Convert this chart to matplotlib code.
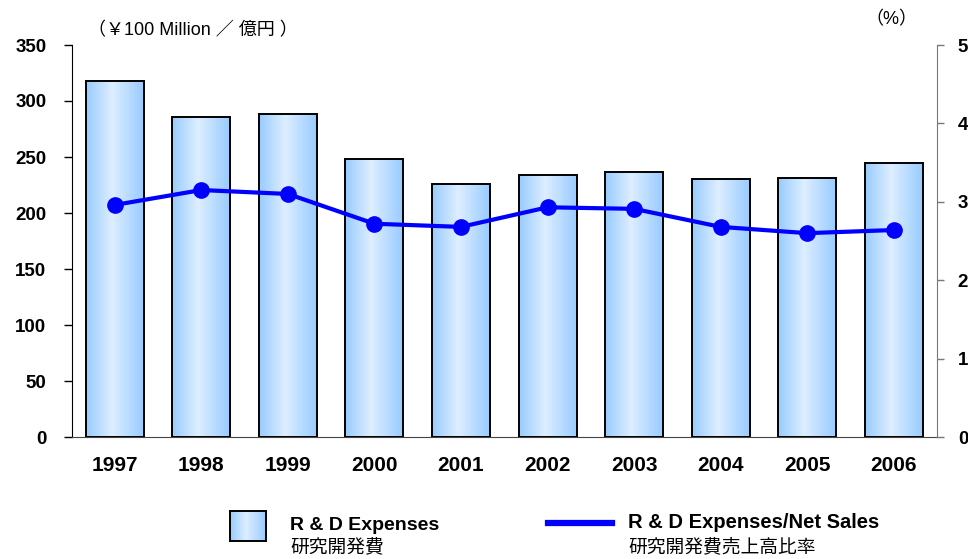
import numpy as np
import matplotlib.pyplot as plt
from matplotlib.colors import LinearSegmentedColormap
from matplotlib.lines import Line2D

years = ["1997", "1998", "1999", "2000", "2001", "2002", "2003", "2004", "2005", "2006"]
rd_expenses = [318, 286, 288, 248, 226, 234, 237, 230, 231, 245]
rd_ratio = [2.96, 3.15, 3.10, 2.72, 2.68, 2.93, 2.91, 2.68, 2.60, 2.64]

FONTS = ["Liberation Sans", "Noto Sans CJK JP", "DejaVu Sans"]
plt.rcParams["font.family"] = FONTS

BAR_CMAP = LinearSegmentedColormap.from_list(
    "barfill", [(0.0, "#99CCFF"), (0.45, "#DDEEFF"), (1.0, "#99CCFF")])
LINE_COLOR = "#0000FF"
grad = np.linspace(0, 1, 64).reshape(1, -1)

fig = plt.figure(figsize=(9.68, 5.59), dpi=100)
ax = fig.add_axes([71.5 / 968, 1 - 437 / 559, (937 - 71.5) / 968, (437 - 45) / 559])
ax2 = ax.twinx()

x = np.arange(len(years))
width = 0.67
bars = ax.bar(x, rd_expenses, width=width, facecolor="none",
              edgecolor="black", linewidth=1.4, zorder=3)
for b in bars:
    im = ax.imshow(grad, cmap=BAR_CMAP, aspect="auto", zorder=2,
                   extent=[b.get_x(), b.get_x() + b.get_width(), 0, b.get_height()])
    im.set_clip_path(b)

ax.set_xlim(-0.5, len(years) - 0.5)
ax.set_ylim(0, 350)
ax.set_yticks(np.arange(0, 351, 50))
ax.set_xticks(x)
ax.set_xticklabels(years, fontsize=15, fontweight="bold")
ax.tick_params(axis="x", length=0, pad=14)
ax.tick_params(axis="y", length=6, width=1, labelsize=13.5, pad=12, color="black")
for lbl in ax.get_yticklabels():
    lbl.set_fontweight("bold")
ax.spines["top"].set_visible(False)
ax.spines["right"].set_visible(False)
ax.spines["left"].set_color("black")
ax.spines["bottom"].set_color("#444444")

ax2.plot(x, rd_ratio, color=LINE_COLOR, linewidth=3, marker="o",
         markersize=11, zorder=5)
ax2.set_ylim(0, 5)
ax2.set_yticks(np.arange(0, 6, 1))
ax2.tick_params(axis="y", length=5, width=1, labelsize=13.5, pad=10, color="#777777")
for lbl in ax2.get_yticklabels():
    lbl.set_fontweight("bold")
ax2.spines["top"].set_visible(False)
ax2.spines["left"].set_visible(False)
ax2.spines["bottom"].set_visible(False)
ax2.spines["right"].set_color("#777777")

fig.text(88 / 968, 1 - 31 / 559, "（￥100 Million ／ 億円 ）", fontsize=13,
         va="center", ha="left")
fig.text(891 / 968, 1 - 20 / 559, "（%）", fontsize=13, va="center", ha="center")

# legend
pax = fig.add_axes([230 / 968, 1 - 541 / 559, 36 / 968, 30 / 559])
pax.imshow(grad, cmap=BAR_CMAP, aspect="auto")
pax.set_xticks([])
pax.set_yticks([])
for sp in pax.spines.values():
    sp.set_linewidth(1.4)
    sp.set_color("black")

fig.add_artist(Line2D([548 / 968, 612 / 968], [1 - 523 / 559, 1 - 523 / 559],
                      color=LINE_COLOR, linewidth=4.5))
fig.text(290 / 968, 1 - 525 / 559, "R & D Expenses", fontsize=14,
         fontweight="bold", va="center")
fig.text(290 / 968, 1 - 548 / 559, "研究開発費", fontsize=13.5, va="center")
fig.text(628 / 968, 1 - 523 / 559, "R & D Expenses/Net Sales", fontsize=14.5,
         fontweight="bold", va="center")
fig.text(628 / 968, 1 - 547 / 559, "研究開発費売上高比率", fontsize=13.5, va="center")

fig.savefig("out.png", dpi=100, facecolor="white")
